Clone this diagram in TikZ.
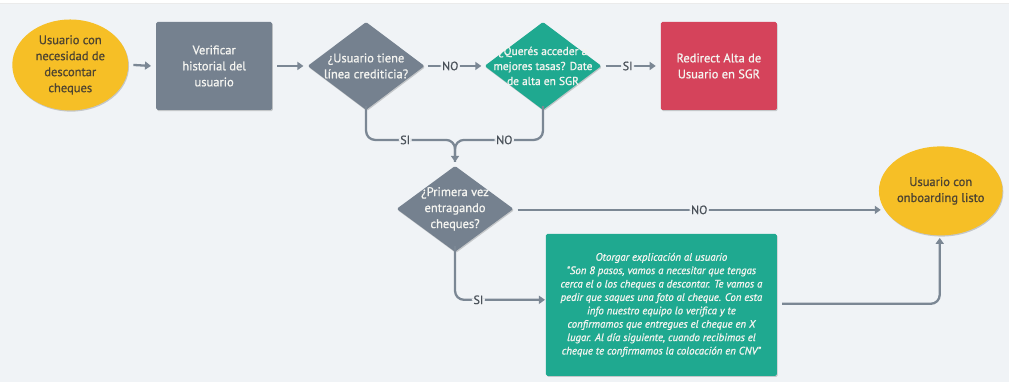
\documentclass[tikz,border=0pt]{standalone}
\usepackage{fontspec}
\setmainfont{PT Sans}
\newfontfamily\medf{PT Sans}[FakeBold=0.9]
\usetikzlibrary{shapes.geometric,arrows.meta,shadows}
\definecolor{bg}{HTML}{F0F3F6}
\definecolor{ylw}{HTML}{F6BF26}
\definecolor{gry}{HTML}{75818F}
\definecolor{grn}{HTML}{1FA990}
\definecolor{rd}{HTML}{D5435B}
\definecolor{ln}{HTML}{7B8794}
\definecolor{ytxt}{HTML}{4E4431}
\definecolor{wtxt}{HTML}{F4F4F0}
\tikzset{
  x=1pt,y=-1pt,
  shd/.style={drop shadow={shadow xshift=0.8pt,shadow yshift=-1.2pt,opacity=0.18,fill=black}},
  term/.style={ellipse,fill=ylw,text=ytxt,inner sep=0pt,align=center,font=\medf\fontsize{12.5}{16}\selectfont,shd},
  proc/.style={rectangle,fill=gry,text=wtxt,minimum width=116pt,minimum height=88pt,rounded corners=1.5pt,align=center,font=\medf\fontsize{12.5}{16}\selectfont,shd},
  dia/.style={diamond,inner sep=0pt,minimum width=117pt,minimum height=88pt,rounded corners=1.5pt,shd},
  dtxt/.style={text=wtxt,align=center,inner sep=0pt,font=\medf\fontsize{12.5}{16}\selectfont},
  conn/.style={draw=ln,line width=2.3pt,rounded corners=9pt},
  arr/.style={conn,-{Triangle[length=6pt,width=8pt]}},
  lbl/.style={fill=bg,text=ln!60!black,inner sep=1.5pt,font=\medf\fontsize{12}{14}\selectfont}
}
\begin{document}
\begin{tikzpicture}
\fill[bg] (0,0) rectangle (1009,382);
\fill[white] (0,0) rectangle (1009,3);
\draw[black!8,line width=0.6pt] (0,3.3) -- (1009,3.3);
\useasboundingbox (0,0) rectangle (1009,382);

\node[term,minimum width=116pt,minimum height=91pt] (s) at (70,65) {Usuario con\\necesidad de\\descontar\\cheques};
\node[proc] (v) at (214,66) {Verificar\\historial del\\usuario};
\node[dia,fill=gry] (d1) at (366,66) {};
\node[dtxt] (t1) at (d1) {¿Usuario tiene\\línea crediticia?};
\node[dia,fill=grn] (d2) at (543,66) {};
\node[dtxt,font=\medf\fontsize{11.5}{15}\selectfont] (t2) at (d2) {¿Querés acceder a\\mejores tasas? Date\\de alta en SGR};
\node[proc,fill=rd] (r) at (719,66) {Redirect Alta de\\Usuario en SGR};
\node[dia,fill=gry,minimum height=86pt] (d3) at (455,209) {};
\node[dtxt] (t3) at (d3) {¿Primera vez\\entragando\\cheques?};
\node[term,minimum width=118pt,minimum height=89pt] (e) at (941,191) {Usuario con\\onboarding listo};
\node[rectangle,fill=grn,text=wtxt,minimum width=231pt,minimum height=142pt,rounded corners=1.5pt,align=center,font=\medf\fontsize{10.8}{13.4}\selectfont\itshape,shd] (g) at (661.5,305)
 {Otorgar explicación al usuario\\
 "Son 8 pasos, vamos a necesitar que tengas\\
 cerca el o los cheques a descontar. Te vamos a\\
 pedir que saques una foto al cheque. Con esta\\
 info nuestro equipo lo verifica y te\\
 confirmamos que entregues el cheque en X\\
 lugar. Al día siguiente, cuando recibimos el\\
 cheque te confirmamos la colocación en CNV"};

\coordinate (m) at (455,140);
\coordinate (mt) at (455,162);
\coordinate (ein) at (881,210);
\coordinate (gin) at (545,300);
\coordinate (eb) at (940,238);
\coordinate (gc) at (940,304);

\draw[arr] ([xshift=5pt]s.east) -- ([xshift=-5pt]v.west);
\draw[arr] ([xshift=5pt]v.east) -- ([xshift=-4pt]d1.west);
\draw[arr] ([xshift=3pt]d1.east) -- node[lbl,pos=0.42]{NO} ([xshift=-3pt]d2.west);
\draw[arr] ([xshift=4pt]d2.east) -- node[lbl,pos=0.44]{SI} ([xshift=-5pt]r.west);
\draw[conn] ([yshift=4pt]d1.south) |- node[lbl,pos=0.72]{SI} (m) -- (mt);
\draw[arr] ([yshift=4pt]d2.south) |- node[lbl,pos=0.72]{NO} (m) -- (mt);
\draw[arr] ([xshift=4pt]d3.east |- ein) -- node[lbl,pos=0.5]{NO} (ein);
\draw[arr] ([yshift=6pt]d3.south) |- node[lbl,pos=0.63]{SI} (gin);
\draw[arr] ([xshift=5pt]g.east |- gc) -| (eb);
\end{tikzpicture}
\end{document}
